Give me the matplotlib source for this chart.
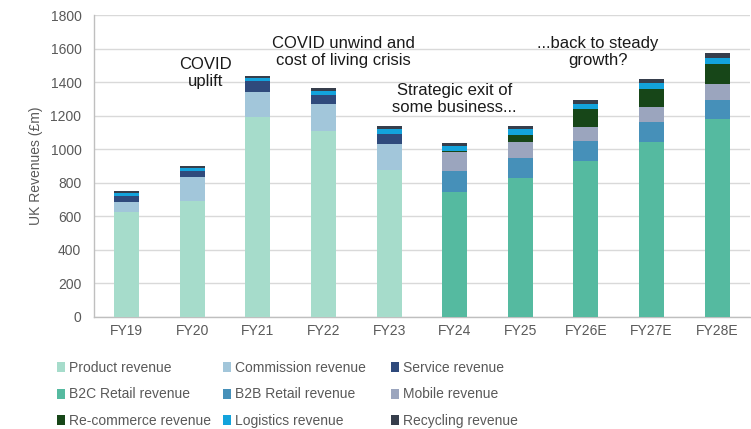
import matplotlib
matplotlib.use("Agg")
import matplotlib.pyplot as plt
import numpy as np
from matplotlib.patches import Patch

plt.rcParams['font.family'] = ['Liberation Sans', 'DejaVu Sans']

years = ["FY19", "FY20", "FY21", "FY22", "FY23", "FY24", "FY25", "FY26E", "FY27E", "FY28E"]

product    = [622, 692, 1193, 1110, 874, 0, 0, 0, 0, 0]
commission = [64, 141, 149, 159, 156, 0, 0, 0, 0, 0]
service    = [32, 36, 66, 52, 60, 0, 0, 0, 0, 0]
b2c_retail = [0, 0, 0, 0, 0, 742, 829, 931, 1042, 1178]
b2b_retail = [0, 0, 0, 0, 0, 129, 116, 117, 118, 117]
mobile     = [0, 0, 0, 0, 0, 110, 97, 86, 91, 93]
recommerce = [0, 0, 0, 0, 0, 9, 44, 105, 109, 121]
logistics  = [18, 16, 14, 26, 28, 28, 32, 32, 32, 34]
recycling  = [14, 16, 16, 19, 20, 20, 18, 24, 26, 28]

series = [
    ("Product revenue", product, "#a6dccb"),
    ("Commission revenue", commission, "#a2c6da"),
    ("Service revenue", service, "#2f4a7c"),
    ("B2C Retail revenue", b2c_retail, "#55baa0"),
    ("B2B Retail revenue", b2b_retail, "#4690b9"),
    ("Mobile revenue", mobile, "#9ba5be"),
    ("Re-commerce revenue", recommerce, "#174618"),
    ("Logistics revenue", logistics, "#13a3dc"),
    ("Recycling revenue", recycling, "#363e4c"),
]

annotations = [
    ("COVID\nuplift", 1.2, 1455),
    ("COVID unwind and\ncost of living crisis", 3.3, 1578),
    ("Strategic exit of\nsome business...", 5.0, 1300),
    ("...back to steady\ngrowth?", 7.18, 1580),
]

fig = plt.figure(figsize=(7.51, 4.29), dpi=100)
ax = fig.add_axes([0.125, 0.2618, 0.8735, 0.703])

x = np.arange(len(years))
bottom = np.zeros(len(years))
handles = {}
for name, vals, col in series:
    v = np.array(vals, dtype=float)
    ax.bar(x, v, bottom=bottom, width=0.38, color=col, linewidth=0, zorder=3)
    bottom += v
    handles[name] = Patch(facecolor=col, edgecolor='none')

ax.set_xlim(-0.5, len(years) - 0.5)
ax.set_ylim(0, 1800)
ax.set_yticks(np.arange(0, 1801, 200))
ax.set_xticks(x)
ax.set_xticklabels(years)
ax.yaxis.grid(True, color="#d9d9d9", linewidth=1.0, zorder=0)
ax.set_axisbelow(True)
for s in ["top", "right"]:
    ax.spines[s].set_visible(False)
for s in ["left", "bottom"]:
    ax.spines[s].set_color("#bfbfbf")
    ax.spines[s].set_linewidth(1.0)
ax.tick_params(axis='both', colors="#595959", labelsize=10, length=0)
ax.tick_params(axis='x', pad=5.5)
ax.tick_params(axis='y', pad=9)
ax.set_ylabel("UK Revenues (£m)", color="#595959", fontsize=10, labelpad=5)

for txt, xx, yy in annotations:
    ax.text(xx, yy, txt, ha='center', va='center', fontsize=12, color='#1a1a1a',
            linespacing=1.2, zorder=5)

cols = [
    ["Product revenue", "B2C Retail revenue", "Re-commerce revenue"],
    ["Commission revenue", "B2B Retail revenue", "Logistics revenue"],
    ["Service revenue", "Mobile revenue", "Recycling revenue"],
]
xpos = [57 / 751, 223 / 751, 391 / 751]
for names, xp in zip(cols, xpos):
    leg = fig.legend([handles[n] for n in names], names, loc='upper left',
                     bbox_to_anchor=(xp, 1 - 361 / 429), frameon=False,
                     borderpad=0, borderaxespad=0, handlelength=0.6,
                     handleheight=0.75, handletextpad=0.25, labelspacing=0.9,
                     prop={'size': 10})
    for t in leg.get_texts():
        t.set_color("#595959")

fig.savefig("out.png", dpi=100)
